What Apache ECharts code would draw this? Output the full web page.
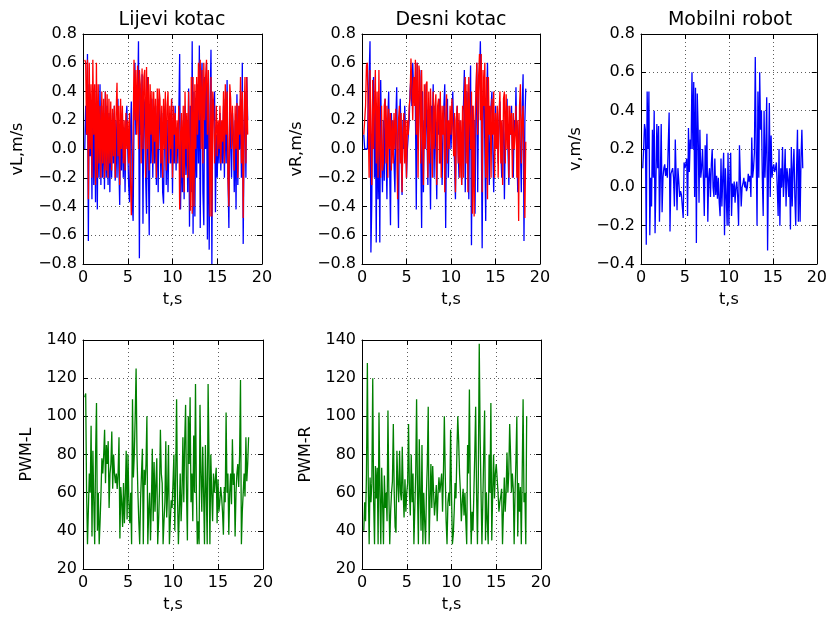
<!DOCTYPE html>
<html>
<head>
<meta charset="utf-8">
<script src="https://cdn.jsdelivr.net/npm/echarts@6/dist/echarts.min.js"></script>
<style>html,body{margin:0;padding:0;background:#fff;}#c{width:830px;height:619px;}</style>
</head>
<body>
<div id="c"></div>
<script>
// sampling: first sample time and step (s)
const T_START = 0.2;
const T_STEP = 0.1;

const titles = ['Lijevi kotac', 'Desni kotac', 'Mobilni robot'];
const yNames = ['vL,m/s', 'vR,m/s', 'v,m/s', 'PWM-L', 'PWM-R'];
const xName = 't,s';

const vL_meas = [
 0.0,0.3,0.1,0.66,-0.64,0.45,-0.05,0.3,-0.35,
 0.4,-0.25,0.3,-0.37,0.45,-0.42,0.3,-0.2,0.45,-0.25,
 0.3,-0.2,0.25,-0.28,0.4,-0.2,0.3,-0.25,0.25,-0.3,
 0.2,-0.2,0.25,-0.1,0.3,-0.22,0.2,-0.2,0.35,-0.1,
 -0.39,0.2,-0.15,0.25,-0.2,0.15,-0.3,0.2,0.3,0.0,
 -0.25,-0.37,0.1,0.33,-0.35,-0.5,0.2,0.6,0.1,0.4,
 0.3,0.75,-0.76,0.4,0.1,0.52,-0.52,0.35,0.3,-0.2,
 -0.45,0.5,-0.1,-0.6,0.3,-0.1,0.35,-0.2,0.3,-0.1,
 0.25,-0.25,0.3,-0.3,0.35,0.2,-0.2,0.25,-0.3,-0.38,
 0.1,0.3,-0.25,0.2,-0.3,0.1,0.25,-0.1,0.35,-0.31,
 0.2,-0.1,0.3,-0.15,0.15,-0.1,0.2,0.66,-0.42,0.1,
 -0.3,0.2,-0.35,0.3,-0.18,0.2,-0.3,0.42,-0.54,0.3,
 -0.3,0.75,-0.59,0.4,-0.47,0.3,-0.2,0.45,-0.1,0.72,
 -0.55,0.4,0.6,-0.3,-0.53,0.5,0.0,0.6,-0.63,0.4,
 -0.7,0.3,0.69,-0.8,0.35,0.2,0.4,-0.44,0.1,-0.2,
 0.15,-0.1,0.25,-0.15,0.15,-0.1,0.3,-0.2,0.35,-0.1,
 0.48,-0.2,-0.55,0.3,0.3,-0.2,0.25,0.1,-0.3,0.2,
 -0.42,0.38,-0.25,0.2,0.0,0.35,-0.2,0.6,-0.66,0.1,
 0.4,-0.2,0.5,0.2
];
const vL_ref = [
 0.62,0.6,0.1,0.62,-0.35,0.6,0.0,0.45,-0.2,
 0.62,0.1,0.45,-0.25,0.6,-0.2,0.45,-0.1,0.3,-0.2,
 0.4,-0.1,0.35,-0.2,0.4,-0.15,0.38,-0.2,0.35,-0.1,
 0.33,-0.15,0.28,-0.05,0.3,-0.2,0.25,0.46,-0.05,0.3,
 -0.25,0.35,0.0,0.3,-0.1,0.2,-0.15,0.25,0.0,0.2,
 -0.1,0.25,-0.2,-0.46,-0.45,0.1,0.62,0.2,0.55,0.1,
 0.58,0.0,0.55,0.45,-0.1,0.56,0.0,0.5,0.55,-0.2,
 0.57,0.0,0.5,-0.15,0.45,0.1,0.4,-0.1,0.4,0.05,
 0.35,-0.2,0.42,0.0,0.42,0.35,-0.1,0.3,-0.2,0.35,
 0.0,0.4,-0.15,0.3,0.4,-0.1,0.3,0.0,0.35,-0.2,
 0.3,0.1,0.25,-0.1,0.2,0.0,0.3,-0.42,0.1,0.25,
 -0.2,0.3,-0.3,0.4,0.0,0.25,-0.2,0.4,0.0,-0.43,
 0.5,-0.45,0.5,-0.4,0.45,0.0,0.5,0.1,0.6,0.2,
 0.62,0.0,0.55,-0.1,0.6,0.2,0.5,0.62,0.1,0.55,
 0.0,-0.47,0.5,-0.47,0.4,0.3,-0.1,0.1,0.3,-0.05,
 0.2,0.0,0.3,-0.1,0.2,0.05,0.4,-0.1,0.45,0.1,
 0.4,-0.2,-0.4,0.45,0.35,0.0,0.3,0.3,-0.15,0.3,
 0.0,0.32,-0.2,0.3,0.1,0.5,-0.1,0.4,-0.48,0.2,
 0.5,-0.1,0.5,0.1
];
const vR_meas = [
 0.1,0.0,0.0,0.0,0.0,0.3,0.5,0.75,-0.72,
 -0.37,0.4,0.5,-0.2,0.3,-0.65,0.3,-0.35,0.2,-0.65,
 0.48,0.0,-0.3,0.2,-0.22,0.35,0.0,-0.35,0.2,0.4,
 -0.1,-0.53,0.25,0.0,0.2,-0.1,-0.3,0.2,0.43,-0.2,
 -0.55,0.2,0.35,0.0,-0.32,0.2,0.0,0.3,0.1,-0.2,
 0.0,0.1,0.2,0.4,0.5,0.3,0.6,0.4,0.5,0.3,
 -0.42,0.6,0.0,0.3,0.55,0.0,-0.55,0.4,-0.3,0.2,
 0.0,0.45,0.1,-0.25,0.3,0.0,-0.42,0.3,0.1,0.45,
 -0.2,0.3,0.0,-0.35,0.3,0.1,0.35,-0.1,0.2,-0.25,
 0.1,0.3,0.45,-0.55,0.2,0.35,-0.2,0.1,0.2,0.0,
 0.2,0.4,0.1,-0.1,-0.35,0.2,0.3,0.0,-0.2,0.2,
 0.0,-0.25,0.2,0.3,0.55,-0.3,0.2,0.4,0.0,-0.35,
 0.3,0.58,-0.67,0.3,0.1,0.2,-0.45,0.3,0.6,-0.3,
 0.4,0.5,0.75,0.2,-0.69,0.3,0.5,0.0,-0.5,0.3,
 0.6,0.1,-0.25,0.2,0.3,0.4,0.0,-0.3,0.1,0.3,
 0.0,0.2,-0.1,0.2,0.33,0.0,-0.2,0.1,0.2,-0.35,
 0.1,0.2,0.35,0.0,-0.25,0.2,0.1,0.3,0.0,-0.2,
 0.2,0.1,0.43,0.0,-0.3,0.1,0.2,0.0,-0.3,0.3,
 0.52,-0.64,0.2,0.42
];
const vR_ref = [
 0.1,0.1,0.3,0.58,0.6,0.2,-0.2,0.55,0.1,
 -0.25,0.48,0.0,0.3,0.55,-0.1,0.4,-0.2,0.55,0.0,
 -0.2,0.3,-0.15,-0.1,0.3,0.35,-0.1,0.3,-0.2,0.28,
 0.0,0.25,-0.15,0.2,-0.1,0.25,0.0,0.28,0.1,-0.35,
 0.2,0.3,-0.1,0.25,-0.3,0.1,0.25,-0.1,0.2,-0.2,
 0.2,0.1,0.3,0.35,0.63,0.45,0.2,0.5,0.3,0.62,
 0.1,0.6,-0.2,0.58,0.5,-0.1,0.55,0.1,-0.25,0.45,
 0.0,0.45,0.47,-0.2,0.4,-0.1,0.42,0.1,-0.2,0.4,
 0.0,0.3,0.38,-0.25,0.3,0.35,-0.1,0.4,-0.2,0.3,
 0.1,0.3,-0.3,0.2,0.38,-0.1,0.2,0.0,0.3,0.1,
 0.35,0.15,-0.05,0.25,-0.3,0.2,0.3,-0.1,0.25,-0.2,
 0.2,-0.25,0.3,-0.2,0.35,0.5,-0.1,0.45,-0.3,0.5,
 0.2,0.0,0.4,-0.45,0.3,-0.47,0.2,0.4,0.6,0.1,
 0.5,0.66,0.2,0.66,-0.3,0.55,0.3,0.6,-0.2,0.5,
 -0.35,0.5,0.1,0.3,-0.2,0.35,0.1,0.4,-0.2,0.25,
 0.0,0.3,-0.2,0.25,0.4,-0.1,0.2,-0.25,0.35,0.4,
 -0.1,0.38,0.0,0.3,-0.2,0.3,0.1,0.25,-0.2,0.25,
 0.0,0.1,0.3,-0.2,0.2,-0.5,0.3,0.45,-0.1,0.2,
 0.3,-0.1,-0.48,0.05
];
const v_robot = [
 0.1,0.2,0.33,0.3,-0.3,0.5,0.2,0.5,-0.25,
 0.05,-0.1,0.3,0.05,0.4,-0.24,0.04,0.33,0.1,0.32,
 -0.18,0.05,0.33,-0.13,0.05,0.1,0.12,0.06,0.1,0.05,
 0.06,0.39,-0.23,0.07,0.06,0.1,0.05,-0.1,0.25,0.05,
 -0.12,0.1,0.03,-0.05,-0.02,-0.04,-0.03,-0.16,0.13,0.1,
 0.12,0.15,-0.15,0.31,0.08,0.25,0.2,0.6,0.2,0.55,
 -0.05,0.52,-0.29,0.49,0.3,-0.08,0.3,0.05,0.1,0.2,
 0.05,-0.15,0.22,0.05,0.28,-0.18,0.05,0.1,-0.05,0.12,
 0.2,0.0,-0.05,0.15,-0.04,0.06,-0.06,0.05,-0.08,-0.15,
 0.15,-0.1,0.05,0.18,-0.25,0.1,-0.05,-0.2,0.18,-0.2,
 0.05,0.18,-0.15,0.02,-0.05,0.03,-0.08,0.0,0.03,-0.05,
 -0.2,0.22,0.05,-0.1,0.0,0.02,0.05,0.0,0.03,-0.02,
 0.0,0.07,0.03,0.06,-0.05,0.26,0.05,0.1,0.18,0.68,
 0.2,-0.2,0.5,0.05,0.6,0.3,0.4,0.05,-0.15,0.4,
 0.05,0.2,0.47,-0.33,0.1,0.44,-0.05,0.27,0.05,0.1,
 0.12,0.08,0.1,0.13,0.0,-0.15,0.2,-0.2,0.1,0.0,
 0.21,-0.05,0.05,0.2,-0.1,0.1,0.05,-0.05,0.1,-0.22,
 0.21,-0.1,0.1,0.2,-0.05,-0.2,0.1,0.3,-0.18,0.2,
 -0.18,0.15,0.3,0.1
];
const pwmL = [
 110,112,60,33,33,70,60,95,37,
 82,55,33,80,107,40,60,33,45,60,
 78,70,80,93,65,85,75,87,52,70,
 75,92,62,80,70,65,70,62,70,89,
 36,63,55,42,65,44,60,82,46,80,
 55,44,60,33,109,68,80,100,125,80,
 60,45,33,57,70,83,33,72,64,75,
 100,33,50,60,35,55,83,45,76,50,
 65,78,33,45,61,93,70,65,33,45,
 55,87,47,60,85,33,45,56,52,65,
 80,40,70,109,58,33,50,70,45,60,
 89,55,87,106,60,35,100,75,110,55,
 70,45,90,60,117,60,33,45,33,106,
 70,50,84,60,33,85,60,33,117,80,
 33,80,60,45,70,60,60,73,44,67,
 50,55,63,58,50,38,63,55,102,60,
 70,38,60,70,54,88,64,70,37,60,
 70,75,63,80,119,33,50,60,70,58,
 89,66,75,89
];
const pwmR = [
 40,55,45,70,128,65,33,68,55,
 65,120,55,33,74,57,73,33,102,60,
 33,73,55,33,69,52,60,45,103,60,
 33,50,60,66,96,60,42,39,82,65,
 55,82,60,56,84,60,47,67,50,60,
 65,96,60,48,80,55,70,33,33,70,
 109,60,33,88,60,40,85,33,60,45,
 33,60,75,105,33,55,75,52,74,60,
 48,55,64,45,60,68,60,65,70,50,
 70,100,70,45,33,55,60,53,93,60,
 33,38,50,65,57,80,100,87,70,60,
 45,55,62,48,60,45,33,85,70,114,
 60,33,50,40,60,80,105,60,33,70,
 138,90,60,33,55,80,103,35,60,45,
 33,80,60,107,35,60,80,57,70,75,
 75,60,50,55,58,62,33,50,68,50,
 60,81,60,70,96,80,60,70,62,33,
 60,77,100,37,65,50,63,33,70,109,
 55,60,33,100
];

function pairs(arr) {
  return arr.map((v, i) => [+(T_START + i * T_STEP).toFixed(2), v]);
}

const FONT = 'DejaVu Sans';
const grids = [
  {left: 83, top: 34, width: 179, height: 230},
  {left: 362, top: 34, width: 178, height: 230},
  {left: 641, top: 34, width: 179, height: 230},
  {left: 83, top: 340, width: 180, height: 229},
  {left: 362, top: 340, width: 179, height: 229}
];
const yRanges = [
  {min: -0.8, max: 0.8, interval: 0.2, dec: 1, gap: 57},
  {min: -0.8, max: 0.8, interval: 0.2, dec: 1, gap: 57},
  {min: -0.4, max: 0.8, interval: 0.2, dec: 1, gap: 57},
  {min: 20, max: 140, interval: 20, dec: 0, gap: 48},
  {min: 20, max: 140, interval: 20, dec: 0, gap: 48}
];
const fmt = (dec) => (v) => {
  const s = Number(v).toFixed(dec);
  return s.replace('-', '\u2212');
};
const gridLine = {show: true, lineStyle: {color: '#333', type: [1, 3], width: 0.8}};
const frameLine = {show: true, onZero: false, lineStyle: {color: '#000', width: 1}};
const tick = {show: true, inside: true, length: 5, lineStyle: {color: '#000'}};

const xAxis = [], yAxis = [];
grids.forEach((g, i) => {
  xAxis.push({
    type: 'value', gridIndex: i, min: 0, max: 20, interval: 5, position: 'bottom',
    name: xName, nameLocation: 'middle', nameGap: 28,
    nameTextStyle: {fontFamily: FONT, fontSize: 16, color: '#000'},
    axisLine: frameLine, axisTick: tick,
    axisLabel: {fontFamily: FONT, fontSize: 16, color: '#000', margin: 6},
    splitLine: gridLine
  });
  xAxis.push({
    type: 'value', gridIndex: i, min: 0, max: 20, interval: 5, position: 'top',
    axisLine: frameLine, axisTick: tick,
    axisLabel: {show: false}, splitLine: {show: false}
  });
  const r = yRanges[i];
  yAxis.push({
    type: 'value', gridIndex: i, min: r.min, max: r.max, interval: r.interval, position: 'left',
    name: yNames[i], nameLocation: 'middle', nameGap: r.gap,
    nameTextStyle: {fontFamily: FONT, fontSize: 16, color: '#000'},
    axisLine: frameLine, axisTick: tick,
    axisLabel: {fontFamily: FONT, fontSize: 16, color: '#000', margin: 6, formatter: fmt(r.dec)},
    splitLine: gridLine
  });
  yAxis.push({
    type: 'value', gridIndex: i, min: r.min, max: r.max, interval: r.interval, position: 'right',
    axisLine: frameLine, axisTick: tick,
    axisLabel: {show: false}, splitLine: {show: false}
  });
});

function line(gi, data, color) {
  return {
    type: 'line', xAxisIndex: gi * 2, yAxisIndex: gi * 2, data: pairs(data),
    showSymbol: false, symbol: 'none', animation: false,
    lineStyle: {color: color, width: 1.3}, itemStyle: {color: color}
  };
}

const series = [
  line(0, vL_meas, '#0000ff'), line(0, vL_ref, '#ff0000'),
  line(1, vR_meas, '#0000ff'), line(1, vR_ref, '#ff0000'),
  line(2, v_robot, '#0000ff'),
  line(3, pwmL, '#008000'),
  line(4, pwmR, '#008000')
];

const titleCenters = [172, 451, 730];
const graphics = titles.map((t, i) => ({
  type: 'text', x: titleCenters[i], y: 20,
  style: {text: t, fontFamily: FONT, fontSize: 19, fill: '#000', textAlign: 'center', textVerticalAlign: 'middle'}
}));

const chart = echarts.init(document.getElementById('c'), null, {renderer: 'canvas'});
chart.setOption({
  animation: false,
  backgroundColor: '#fff',
  grid: grids.map(g => Object.assign({containLabel: false}, g)),
  xAxis: xAxis,
  yAxis: yAxis,
  series: series,
  graphic: graphics
});
</script>
</body>
</html>
